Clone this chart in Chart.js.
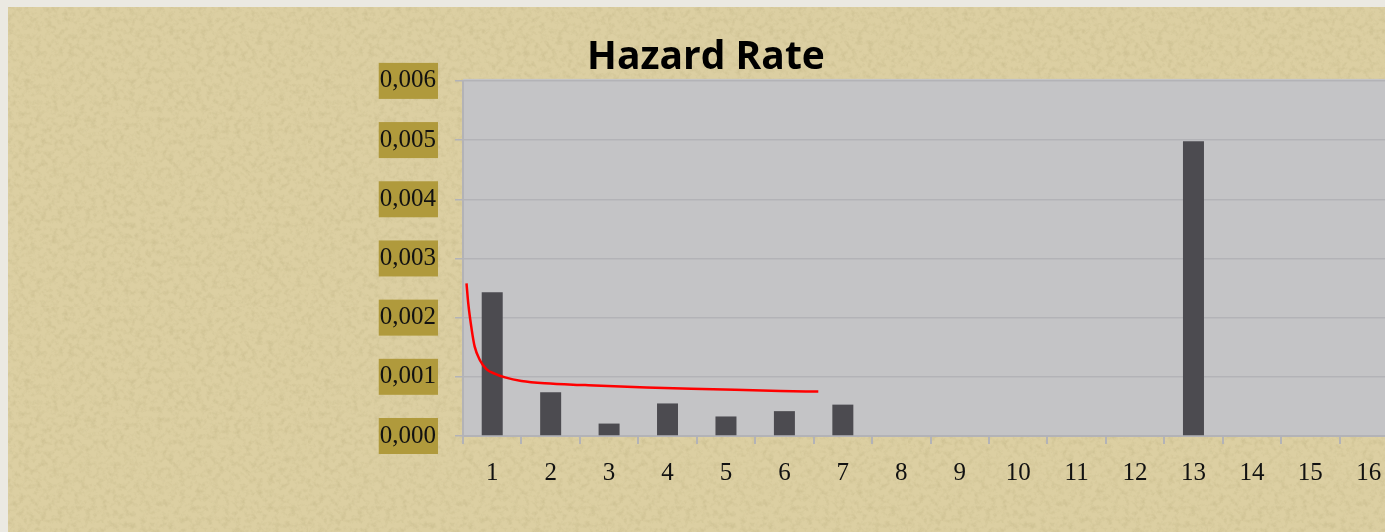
<!DOCTYPE html>
<html>
<head>
<meta charset="utf-8">
<title>Hazard Rate</title>
<script src="https://cdn.jsdelivr.net/npm/chart.js@4"></script>
<style>
  html, body { margin: 0; padding: 0; overflow: hidden; }
  body { width: 1385px; height: 532px; background: #ebe9e2; position: relative; }
  #paper {
    position: absolute; left: 8px; top: 7px; right: 0; bottom: 0;
    background-color: #dccfa2;
    background-image: url("data:image/svg+xml;utf8,<svg xmlns='http://www.w3.org/2000/svg' width='300' height='300'><filter id='n'><feTurbulence type='fractalNoise' baseFrequency='0.18' numOctaves='4' seed='7' stitchTiles='stitch'/><feColorMatrix values='0 0 0 0 0.42 0 0 0 0 0.36 0 0 0 0 0.16 1.4 0 0 0 -0.6'/></filter><rect width='100%' height='100%' filter='url(%23n)' opacity='0.45'/></svg>");
  }
  #chart { position: absolute; left: 0; top: 0; }
</style>
</head>
<body>
<div id="paper"></div>
<canvas id="chart" width="1412" height="532"></canvas>
<script>
// periods on the x axis
const periods = [1, 2, 3, 4, 5, 6, 7, 8, 9, 10, 11, 12, 13, 14, 15, 16];
// hazard rate per period
const hazard = [0.00243, 0.00074, 0.00021, 0.00055, 0.00033, 0.00042, 0.00053, 0, 0, 0, 0, 0, 0.00498, 0, 0, 0];
// fitted curve, read at positions along the period axis
const fitX = [0.56, 0.59, 0.65, 0.70, 0.79, 0.90, 1.05, 1.22, 1.50, 1.90, 2.59, 3.64, 4.78, 5.93, 6.58];
const fitY = [0.00258, 0.00224, 0.00179, 0.00151, 0.00128, 0.00113, 0.00105, 0.00099, 0.00093, 0.00089, 0.00086, 0.00082, 0.00079, 0.00076, 0.00075];
const yTicks = { min: 0, max: 0.006, step: 0.001 };

const plotBg = {
  id: 'plotBg',
  beforeDraw(chart) {
    const {ctx, chartArea: a} = chart;
    ctx.save();
    ctx.fillStyle = '#c4c4c6';
    ctx.fillRect(a.left, a.top - 2, a.right - a.left, a.bottom - a.top + 2);
    ctx.restore();
  }
};

const axisGray = '#b3b3b7';
const tickFont = { family: "'Liberation Serif', serif", size: 25 };
// tick marks sit between periods, labels on the periods
const xTickValues = [periods[0] - 0.5].concat(periods.flatMap(p => [p, p + 0.5]));

new Chart(document.getElementById('chart'), {
  type: 'bar',
  data: {
    datasets: [{
      type: 'bar',
      data: periods.map((p, i) => ({x: p, y: hazard[i]})),
      backgroundColor: '#4c4b50',
      borderWidth: 0,
      inflateAmount: 0,
      grouped: false,
      barThickness: 21,
      order: 2
    }, {
      type: 'line',
      data: fitX.map((x, i) => ({x, y: fitY[i]})),
      borderColor: '#ff0000',
      borderWidth: 2.5,
      pointRadius: 0,
      cubicInterpolationMode: 'monotone',
      order: 1
    }]
  },
  options: {
    responsive: false,
    animation: false,
    layout: { padding: { left: 2, right: 2, top: 0, bottom: 0 } },
    plugins: {
      legend: { display: false },
      tooltip: { enabled: false },
      title: {
        display: true,
        text: 'Hazard Rate',
        color: '#000',
        font: { family: "'Open Sans'", weight: 'bold', size: 39, lineHeight: 1.1 },
        padding: { top: 36, bottom: 2 }
      }
    },
    scales: {
      x: {
        type: 'linear',
        offset: false,
        min: periods[0] - 0.5,
        max: periods[periods.length - 1] + 0.5,
        afterBuildTicks(s) { s.ticks = xTickValues.map(value => ({value})); },
        grid: {
          offset: false,
          drawOnChartArea: false,
          tickLength: 8,
          lineWidth: 2,
          color: c => Number.isInteger(c.tick && c.tick.value) ? 'rgba(0,0,0,0)' : axisGray
        },
        border: { color: axisGray, width: 2 },
        ticks: {
          color: '#111', font: tickFont, padding: 14, maxRotation: 0, autoSkip: false,
          callback: v => Number.isInteger(v) ? String(v) : ''
        },
        afterFit(s) { s.height = 96; }
      },
      y: {
        min: yTicks.min,
        max: yTicks.max,
        grid: { color: axisGray, lineWidth: 1.5, tickLength: 8 },
        border: { color: axisGray, width: 2 },
        ticks: {
          stepSize: yTicks.step,
          color: '#111',
          font: tickFont,
          padding: 19,
          showLabelBackdrop: true,
          backdropColor: '#b09a3c',
          backdropPadding: { top: 3, bottom: 3, left: 1, right: 2 },
          callback: v => v.toFixed(3).replace('.', ',')
        },
        afterFit(s) { s.width = 461; }
      }
    }
  },
  plugins: [plotBg]
});
</script>
</body>
</html>
